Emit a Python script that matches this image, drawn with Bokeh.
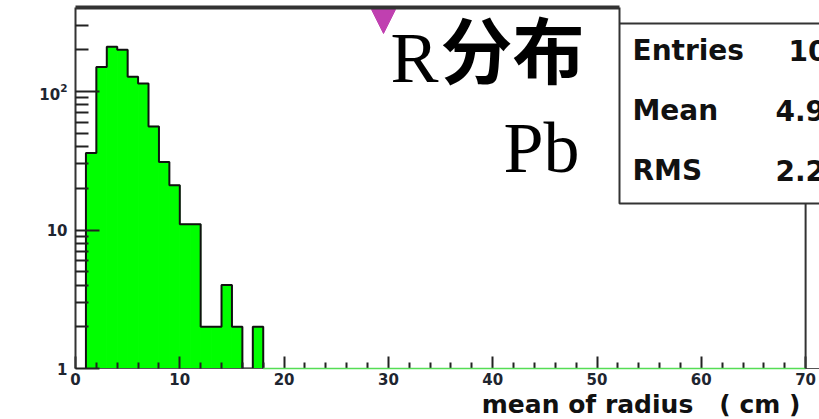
import numpy as np
from bokeh.plotting import figure
from bokeh.models import (Range1d, FixedTicker, Label, Arrow, NormalHead, Title,
                          LogTickFormatter)
from bokeh.embed import file_html
from bokeh.resources import INLINE
from bokeh.core.properties import value

# ---- data ----
bin_left = [1, 2, 3, 4, 5, 6, 7, 8, 9, 10, 11, 12, 13, 14, 15, 16, 17]
bin_width = 1.0
counts = [36, 150, 210, 200, 128, 114, 56, 31, 21, 11, 11, 2, 2, 4, 2, 0, 2]
x_ticks = [0, 10, 20, 30, 40, 50, 60, 70]
x_minor = [v for v in range(0, 71, 2) if v % 10 != 0]
y_ticks = [1, 10, 100]
y_plain_labels = ["1", "10"]          # 100 is drawn as 10^2 by the log formatter
y_minor = [2, 3, 4, 5, 6, 7, 8, 9, 20, 30, 40, 50, 60, 70, 80, 90, 200, 300]
stats_names = ["Entries", "Mean", "RMS"]
stats_values = ["1000", "4.9", "2.2"]
x_title = "mean of radius\u00a0\u00a0\u00a0( cm )"

# ---- layout helpers (canvas pixel -> data) ----
W, H = 819, 419
LEFT, TOP, BOTTOM = 75, 7, 51
PXU = 10.43          # px per x unit
DEC = 138.5          # px per y decade
X0_PX, Y1_PX = LEFT, H - BOTTOM
x_end = (W - LEFT) / PXU
y_end = 10 ** ((H - TOP - BOTTOM) / DEC)


def dx(px):
    return (px - X0_PX) / PXU


def dy(py):
    return 10 ** ((Y1_PX - py) / DEC)


p = figure(width=W, height=H, y_axis_type="log", output_backend="svg",
           toolbar_location=None, x_range=Range1d(0, x_end),
           y_range=Range1d(1, y_end), min_border_left=LEFT,
           min_border_right=0, min_border_top=TOP, min_border_bottom=BOTTOM)
p.outline_line_color = None
p.grid.visible = False
p.background_fill_color = "white"
p.border_fill_color = "white"

# histogram fill
lefts = [l for l, c in zip(bin_left, counts) if c > 0]
rights = [l + bin_width for l, c in zip(bin_left, counts) if c > 0]
tops = [c for c in counts if c > 0]
p.quad(left=lefts, right=rights, top=tops, bottom=1, fill_color="#00ff00",
       line_color="#00ff00", line_width=1)

# histogram outline
ox, oy = [bin_left[0]], [1]
for l, c in zip(bin_left, counts):
    h = c if c > 0 else 1
    ox += [l, l + bin_width]
    oy += [h, h]
ox.append(bin_left[-1] + bin_width)
oy.append(1)
p.line(ox, oy, line_color="#111111", line_width=2)

# baseline green after histogram
p.line([bin_left[-1] + bin_width, 70], [1, 1], line_color="#55dd55",
       line_width=1.5, level="overlay")

# axes
font = "DejaVu Sans"
xa = p.xaxis[0]
xa.ticker = FixedTicker(ticks=x_ticks, minor_ticks=x_minor)
xa.major_tick_in = 12
xa.major_tick_out = 0
xa.minor_tick_in = 6
xa.minor_tick_out = 0
xa.axis_line_color = "#555555"
xa.major_tick_line_color = "#222222"
xa.minor_tick_line_color = "#222222"
xa.major_tick_line_width = 2
xa.minor_tick_line_width = 2
xa.major_label_text_font = font
xa.major_label_text_font_style = "bold"
xa.major_label_text_font_size = "15px"
xa.major_label_text_color = "#1e2530"
xa.major_label_standoff = 4

ya = p.yaxis[0]
ya.ticker = FixedTicker(ticks=y_ticks, minor_ticks=y_minor)
ya.formatter = LogTickFormatter(min_exponent=1)
ya.major_label_overrides = {t: s for t, s in zip(y_ticks, y_plain_labels)}
ya.major_tick_in = 24
ya.major_tick_out = 0
ya.minor_tick_in = 13
ya.minor_tick_out = 0
ya.axis_line_color = "#333333"
ya.axis_line_width = 2
ya.major_tick_line_color = "#222222"
ya.minor_tick_line_color = "#222222"
ya.major_tick_line_width = 2
ya.minor_tick_line_width = 2
ya.major_label_text_font = font
ya.major_label_text_font_style = "bold"
ya.major_label_text_font_size = "15px"
ya.major_label_text_color = "#1e2530"
ya.major_label_standoff = 8

# x-axis title (right aligned under the axis)
p.add_layout(Title(text=x_title, align="right", text_font=font,
                   text_font_style="bold", text_font_size="25px",
                   text_color="#111111", standoff=0, offset=19), "below")

# frame pieces
p.line([0, dx(619)], [y_end, y_end], line_color="#333333", line_width=4,
       level="overlay")
p.line([70, 70], [1, dy(203)], line_color="#333333", line_width=2,
       level="overlay")

# stats box
p.quad(left=dx(619), right=90, bottom=dy(203), top=5000, fill_color="white",
       line_color="#333333", line_width=2)
p.line([dx(619), 90], [dy(23), dy(23)], line_color="#333333", line_width=2)
for i, (n, v) in enumerate(zip(stats_names, stats_values)):
    base = 50 + 60 * i
    p.add_layout(Label(x=dx(632), y=dy(base), text=n, text_font=font,
                       text_font_style="bold", text_font_size="28px",
                       text_color="#111111", text_baseline="alphabetic"))
    vx = 788 if i == 0 else 775
    p.add_layout(Label(x=dx(vx), y=dy(base), text=v, text_font=font,
                       text_font_style="bold", text_font_size="28px",
                       text_color="#111111", text_baseline="alphabetic"))

# overlay texts
p.add_layout(Label(x=dx(390), y=dy(57), text="R",
                   text_font="Liberation Serif", text_font_size="72px",
                   text_color="black", text_baseline="alphabetic"))
p.add_layout(Label(x=dx(440), y=dy(46), text="分布",
                   text_font="Noto Sans CJK SC", text_font_style="bold",
                   text_font_size="72px", text_color="black",
                   text_baseline="alphabetic"))
p.add_layout(Label(x=dx(579), y=dy(147), text="Pb",
                   text_font="Liberation Serif", text_font_size="72px",
                   text_color="black", text_align="right",
                   text_baseline="alphabetic"))

# magenta arrow
p.add_layout(Arrow(x_start=dx(383), y_start=dy(-20), x_end=dx(383),
                   y_end=dy(33), line_color="#c040b0", line_width=4,
                   end=NormalHead(size=24, fill_color="#c040b0",
                                  line_color="#c040b0")))

open("out.html", "w").write(file_html(p, INLINE))
